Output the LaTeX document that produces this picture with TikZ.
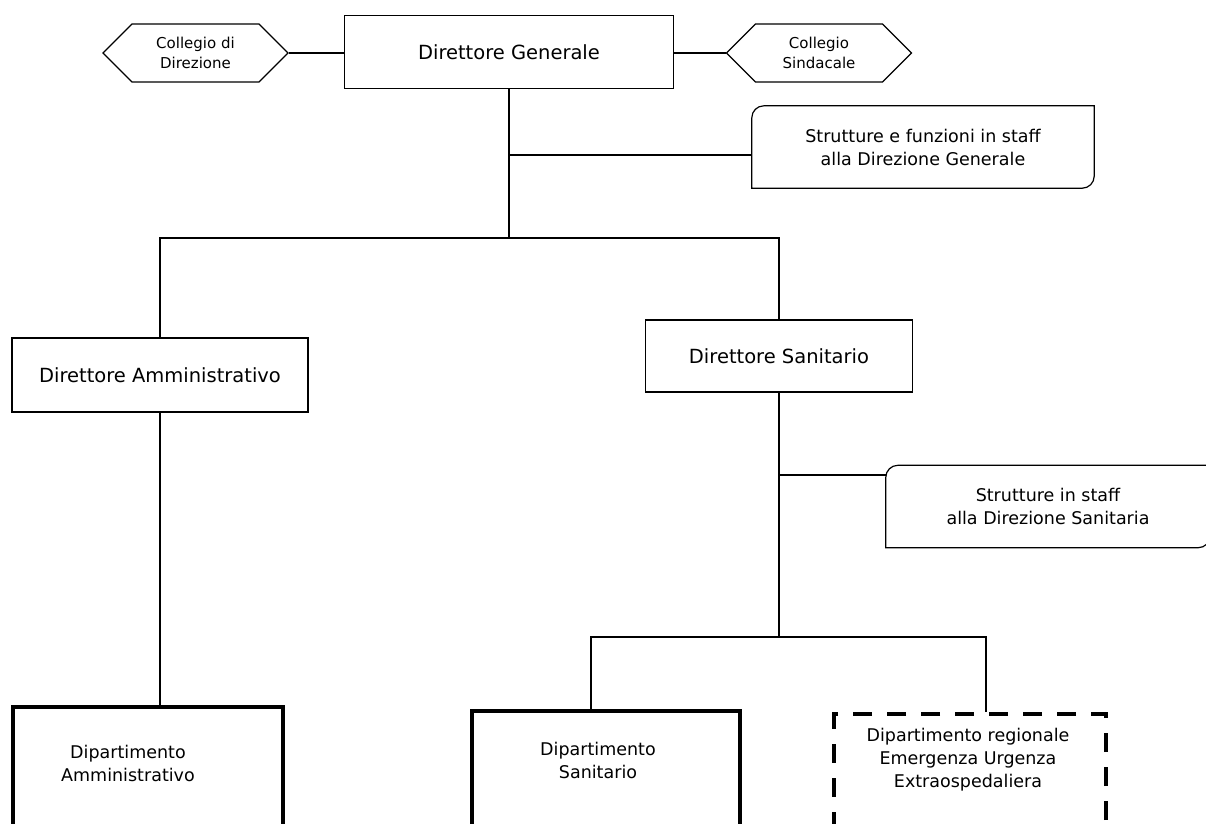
\documentclass[tikz,border=0pt]{standalone}
\usepackage{fontspec}
\setmainfont{DejaVu Sans}
\usetikzlibrary{shapes.symbols,positioning}

\tikzset{
    txt/.style={align=center, inner sep=0pt, font=\fontsize{17.5}{23}\selectfont},
    box/.style={draw, line width=1.2pt, align=center, inner sep=0pt, font=\fontsize{19.5}{24}\selectfont},
    hexa/.style={draw, line width=1.2pt, shape=signal, signal to=east and west,
        minimum width=185pt, minimum height=58pt, inner sep=0pt, align=center,
        font=\fontsize{15}{20}\selectfont},
    staff/.style={txt, minimum height=82pt},
    dept/.style={draw, line width=4pt, minimum height=140pt},
    link/.style={line width=1.2pt}
}

% box with two rounded corners (top left, bottom right)
\newcommand\staffframe[1]{%
    \draw[link] (#1.west) [rounded corners=12pt] |- (#1.north) [sharp corners] -| (#1.east)
        [rounded corners=12pt] |- (#1.south) [sharp corners] -| (#1.west) -- cycle;}

\begin{document}
\begin{tikzpicture}[x=1pt, y=-1pt]
    \useasboundingbox (0,0) rectangle (1206,823);

    % top level
    \node[box, minimum width=329pt, minimum height=73pt] (dg) at (509,52) {Direttore Generale};
    \node[hexa] (cdir) at (195.5,53) {Collegio di\\Direzione};
    \node[hexa] (csin) at (819,53) {Collegio\\Sindacale};
    \draw[link] (cdir.east) -- (cdir.east -| dg.west);
    \draw[link] (csin.west -| dg.east) -- (csin.west);

    \node[staff, minimum width=342pt] (sdg) at (923,147) {Strutture e funzioni in staff\\alla Direzione Generale};
    \staffframe{sdg}

    \coordinate (j1) at (509,155);
    \coordinate (j2) at (509,238);
    \draw[link] (dg.south) -- (j2);
    \draw[link] (j1) -- (j1 -| sdg.west);

    % second level
    \node[box, minimum width=296pt, minimum height=74pt] (da) at (160,375) {Direttore Amministrativo};
    \node[box, minimum width=267pt, minimum height=72pt] (ds) at (779,356) {Direttore Sanitario};
    \draw[link] (da.north) -- (da.north |- j2) -- (ds.north |- j2) -- (ds.north);

    \node[staff, minimum width=324pt] (sds) at (1048,506.5) {Strutture in staff\\alla Direzione Sanitaria};
    \staffframe{sds}

    \coordinate (j3) at (779,475);
    \coordinate (j4) at (779,637);
    \draw[link] (ds.south) -- (j4);
    \draw[link] (j3) -- (j3 -| sds.west);

    % departments
    \node[dept, minimum width=270pt] (dam) at (148,777) {};
    \node[dept, minimum width=268pt] (dsan) at (606,781) {};
    \node[dept, dash pattern=on 19pt off 15pt, minimum width=272pt] (dreg) at (970,784) {};
    \node[txt] (damt) at (128,763) {Dipartimento\\Amministrativo};
    \node[txt] (dsant) at (598,760) {Dipartimento\\Sanitario};
    \node[txt] (dregt) at (968,760) {Dipartimento regionale\\Emergenza Urgenza\\Extraospedaliera};

    \draw[link] (da.south) -- (da.south |- dam.north);
    \coordinate (b1) at (591,637);
    \coordinate (b2) at (986,637);
    \draw[link] (b1 |- dsan.north) -- (b1) -- (b2) -- (b2 |- dreg.north);
\end{tikzpicture}
\end{document}
